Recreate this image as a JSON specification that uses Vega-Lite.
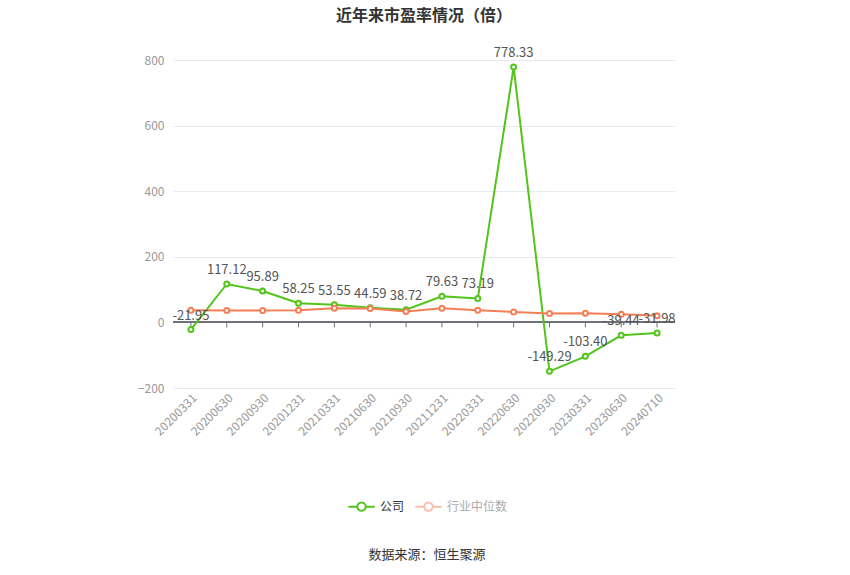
{
  "$schema": "https://vega.github.io/schema/vega-lite/v6.json",
  "width": 502,
  "height": 328,
  "autosize": {"type": "none"},
  "padding": {"left": 173, "top": 60, "right": 175, "bottom": 187},
  "background": "#ffffff",
  "config": {
    "font": "Noto Sans CJK SC",
    "view": {"stroke": null}
  },
  "title": {
    "text": "近年来市盈率情况（倍）",
    "fontSize": 16,
    "fontWeight": "bold",
    "color": "#333333",
    "anchor": "middle",
    "offset": 23
  },
  "data": {
    "values": [
      {"date": "20200331", "series": "公司", "value": -21.95},
      {"date": "20200630", "series": "公司", "value": 117.12},
      {"date": "20200930", "series": "公司", "value": 95.89},
      {"date": "20201231", "series": "公司", "value": 58.25},
      {"date": "20210331", "series": "公司", "value": 53.55},
      {"date": "20210630", "series": "公司", "value": 44.59},
      {"date": "20210930", "series": "公司", "value": 38.72},
      {"date": "20211231", "series": "公司", "value": 79.63},
      {"date": "20220331", "series": "公司", "value": 73.19},
      {"date": "20220630", "series": "公司", "value": 778.33},
      {"date": "20220930", "series": "公司", "value": -149.29},
      {"date": "20230331", "series": "公司", "value": -103.40},
      {"date": "20230630", "series": "公司", "value": -39.44},
      {"date": "20240710", "series": "公司", "value": -31.98},
      {"date": "20200331", "series": "行业中位数", "value": 37},
      {"date": "20200630", "series": "行业中位数", "value": 36},
      {"date": "20200930", "series": "行业中位数", "value": 36},
      {"date": "20201231", "series": "行业中位数", "value": 37},
      {"date": "20210331", "series": "行业中位数", "value": 43},
      {"date": "20210630", "series": "行业中位数", "value": 42},
      {"date": "20210930", "series": "行业中位数", "value": 33},
      {"date": "20211231", "series": "行业中位数", "value": 43},
      {"date": "20220331", "series": "行业中位数", "value": 37},
      {"date": "20220630", "series": "行业中位数", "value": 32},
      {"date": "20220930", "series": "行业中位数", "value": 27},
      {"date": "20230331", "series": "行业中位数", "value": 28},
      {"date": "20230630", "series": "行业中位数", "value": 25},
      {"date": "20240710", "series": "行业中位数", "value": 20}
    ]
  },
  "encoding": {
    "x": {
      "field": "date",
      "type": "ordinal",
      "sort": null,
      "scale": {"type": "point", "padding": 0.5},
      "axis": {
        "title": null,
        "labelAngle": -45,
        "labelColor": "#999999",
        "labelFontSize": 12,
        "labelPadding": 4,
        "domain": false,
        "ticks": false,
        "grid": false
      }
    },
    "y": {
      "field": "value",
      "type": "quantitative",
      "scale": {"domain": [-200, 800], "nice": false, "zero": false},
      "axis": {
        "title": null,
        "values": [-200, 0, 200, 400, 600, 800],
        "labelColor": "#999999",
        "labelFontSize": 12,
        "labelPadding": 9,
        "domain": false,
        "ticks": false,
        "gridColor": "#e6e9f0",
        "gridWidth": 1
      }
    }
  },
  "layer": [
    {
      "mark": {"type": "rule", "color": "#6e7079", "strokeWidth": 1},
      "encoding": {"y": {"datum": 0}, "x": {"value": 0}, "x2": {"value": 502}}
    },
    {
      "transform": [{"filter": "datum.series === '公司'"}],
      "mark": {"type": "rule", "color": "#6e7079", "strokeWidth": 1, "y2Offset": 5},
      "encoding": {"y": {"datum": 0}, "y2": {"datum": 0}}
    },
    {
      "mark": {
        "type": "line",
        "strokeWidth": 2,
        "point": {"filled": false, "fill": "#ffffff", "size": 25, "strokeWidth": 2}
      },
      "encoding": {
        "color": {
          "field": "series",
          "type": "nominal",
          "scale": {"domain": ["公司", "行业中位数"], "range": ["#52c41a", "#f57f55"]},
          "legend": {
            "orient": "none",
            "legendX": 174,
            "legendY": 432,
            "direction": "horizontal",
            "title": "数据来源：恒生聚源",
            "titleOrient": "bottom",
            "titleAnchor": "middle",
            "titleFontSize": 13,
            "titleFontWeight": "normal",
            "titleColor": "#333333",
            "titlePadding": 34,
            "labelFontSize": 12,
            "labelColor": "#333333",
            "symbolType": "M-1,0H-0.32M0.32,0H1M0.32,0A0.32,0.32,0,1,1,-0.32,0A0.32,0.32,0,1,1,0.32,0Z",
            "symbolSize": 700,
            "symbolStrokeWidth": 2,
            "symbolFillColor": "#ffffff",
            "columnPadding": 6,
            "labelOffset": 4,
            "encode": {
              "symbols": {
                "update": {
                  "fill": {"value": "#ffffff"},
                  "opacity": {"signal": "datum.value === '公司' ? 1 : 0.5"}
                }
              },
              "labels": {
                "update": {
                  "fill": {"signal": "datum.value === '公司' ? '#333333' : '#aaaaaa'"}
                }
              }
            }
          }
        }
      }
    },
    {
      "transform": [
        {"filter": "datum.series === '公司'"},
        {"calculate": "replace(format(datum.value, '.2f'), '\u2212', '-')", "as": "label"}
      ],
      "mark": {"type": "text", "dy": -14, "fontSize": 13, "color": "#555555"},
      "encoding": {
        "text": {"field": "label", "type": "nominal"}
      }
    }
  ]
}
